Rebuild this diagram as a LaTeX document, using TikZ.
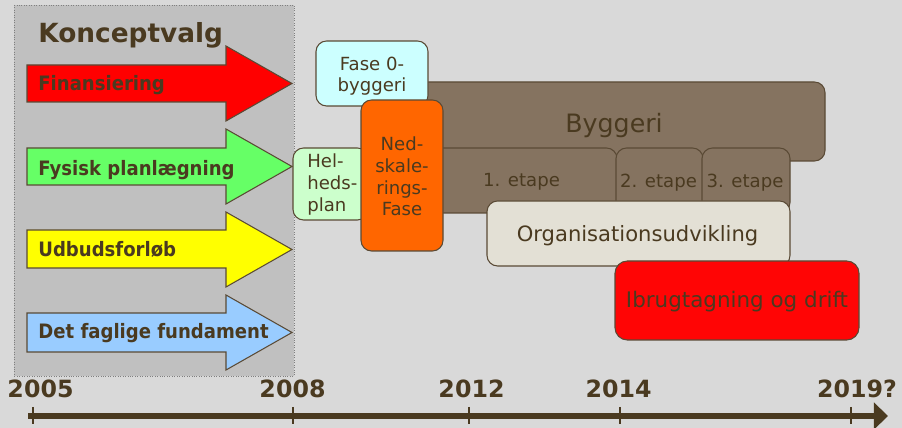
\documentclass[tikz,border=0pt]{standalone}
\usepackage{fontspec}
\setmainfont{DejaVu Sans}
\newfontfamily\arrowfont{DejaVu Sans}[FakeStretch=0.91]
\usetikzlibrary{arrows.meta}

\definecolor{bgcol}{HTML}{D9D9D9}
\definecolor{panelcol}{HTML}{C0C0C0}
\definecolor{edgecol}{HTML}{5A4A35}
\definecolor{txtcol}{HTML}{4A3A20}
\definecolor{finanscol}{HTML}{FF0000}
\definecolor{fysiskcol}{HTML}{66FF66}
\definecolor{udbudcol}{HTML}{FFFF00}
\definecolor{fagligcol}{HTML}{99CCFF}
\definecolor{fasecol}{HTML}{CCFFFF}
\definecolor{helhedcol}{HTML}{CCFFCC}
\definecolor{nedcol}{HTML}{FF6600}
\definecolor{byggcol}{HTML}{857360}
\definecolor{orgcol}{HTML}{E3E0D5}
\definecolor{driftcol}{HTML}{FF0505}

\tikzset{
  planarrow/.style={draw=edgecol, line width=0.6pt},
  phasebox/.style={draw=edgecol, line width=0.6pt, rounded corners=6pt},
  lbl/.style={inner sep=0pt, text=txtcol, anchor=base},
  arrowlbl/.style={lbl, anchor=base west, font=\arrowfont\bfseries\fontsize{11.3}{13}\selectfont},
  yearlbl/.style={lbl, font=\bfseries\fontsize{13.5}{16}\selectfont},
  small/.style={font=\fontsize{10.3}{12.4}\selectfont},
}

\begin{document}
\begin{tikzpicture}[x=0.02cm, y=-0.02cm]
\fill[bgcol] (0,0) rectangle (902,428);
\useasboundingbox (0,0) rectangle (902,428);

% konceptvalg
\fill[panelcol] (14,5) rectangle (294,376);
\draw[gray, densely dotted, line width=0.4pt] (14,5) rectangle (294,376);
\node[lbl, anchor=base west, font=\bfseries\fontsize{15}{18}\selectfont] (konceptvalg) at (38,43) {Konceptvalg};

\draw[planarrow, fill=finanscol] (27,65) -- (226,65) -- (226,46) -- (292,83.5) -- (226,121) -- (226,102) -- (27,102) -- cycle;
\node[arrowlbl] (finansiering) at (38,91) {Finansiering};
\draw[planarrow, fill=fysiskcol] (27,148) -- (226,148) -- (226,129) -- (292,166.5) -- (226,204) -- (226,185) -- (27,185) -- cycle;
\node[arrowlbl] (fysisk) at (38,176) {Fysisk planlægning};
\draw[planarrow, fill=udbudcol] (27,230) -- (226,230) -- (226,212) -- (292,249.5) -- (226,287) -- (226,268) -- (27,268) -- cycle;
\node[arrowlbl] (udbud) at (38,257) {Udbudsforløb};
\draw[planarrow, fill=fagligcol] (27,313) -- (226,313) -- (226,295) -- (292,332.5) -- (226,370) -- (226,352) -- (27,352) -- cycle;
\node[arrowlbl] (faglig) at (38,339) {Det faglige fundament};

% byggeri og etaper
\draw[phasebox, fill=byggcol] (400,82) rectangle (825,161);
\node[lbl, font=\fontsize{14.4}{17}\selectfont] (byggeri) at (614,133) {Byggeri};
\draw[phasebox, fill=byggcol] (420,148) rectangle (617,213);
\node[lbl, small] (etape1) at (521.5,187) {1. etape};
\draw[phasebox, fill=byggcol] (616,148) rectangle (703,213);
\node[lbl, small] (etape2) at (658.5,188) {2. etape};
\draw[phasebox, fill=byggcol] (702,148) rectangle (790,213);
\node[lbl, small] (etape3) at (745,188) {3. etape};

% tidlige faser (anker = sidste linjes basislinje)
\draw[phasebox, fill=helhedcol] (293,148) rectangle (368,220);
\node[lbl, small, anchor=base west, text width=1.2cm, align=left] (helhed) at (307,168) {Hel-\\heds-\\plan};
\draw[phasebox, fill=fasecol] (316,41) rectangle (428,106);
\node[lbl, small, align=center] (fase0) at (372,92) {Fase 0-\\byggeri};
\draw[phasebox, fill=nedcol] (361,100) rectangle (443,251);
\node[lbl, small, align=center] (nedskal) at (402,216) {Ned-\\skale-\\rings-\\Fase};

% organisation og drift
\draw[phasebox, fill=orgcol] (487,201) rectangle (790,266);
\node[lbl, font=\fontsize{12}{14}\selectfont] (org) at (637.5,242) {Organisationsudvikling};
\draw[phasebox, fill=driftcol, rounded corners=7pt] (615,261) rectangle (859,340);
\node[lbl, font=\fontsize{12.2}{14}\selectfont] (drift) at (737,308) {Ibrugtagning og drift};

% tidslinje
\coordinate (tstart) at (28,416);
\coordinate (tend) at (888,416);
\draw[txtcol, line width=2.9pt, -{Triangle[length=8pt, width=15pt]}] (tstart) -- (tend);
\draw[txtcol, line width=1.2pt] (33,407) -- (33,424) (293,407) -- (293,424) (469,407) -- (469,424) (620,407) -- (620,424) (851,407) -- (851,424);
\node[yearlbl] (y2005) at (40.5,398) {2005};
\node[yearlbl] (y2008) at (292.5,398) {2008};
\node[yearlbl] (y2012) at (471.5,398) {2012};
\node[yearlbl] (y2014) at (618.5,398) {2014};
\node[yearlbl] (y2019) at (857,398) {2019?};
\end{tikzpicture}
\end{document}
